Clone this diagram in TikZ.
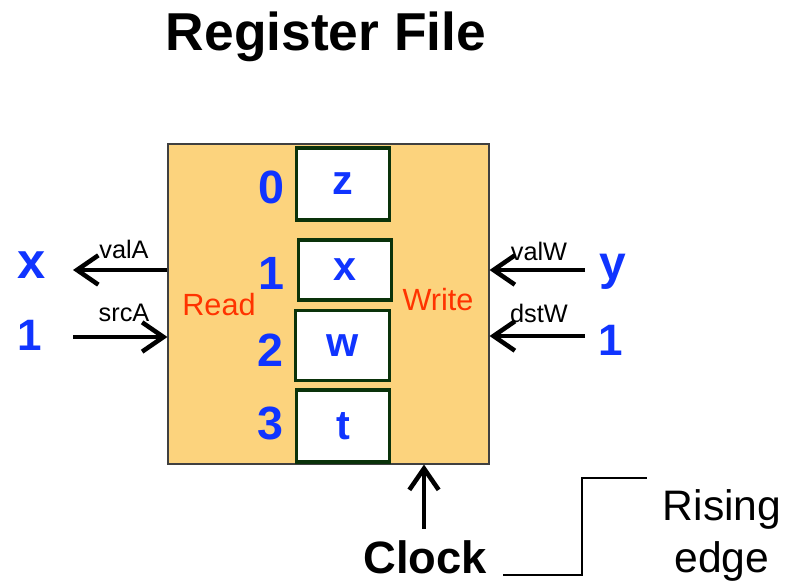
\documentclass[tikz,border=0pt]{standalone}
\usepackage{fontspec}
\setmainfont{Liberation Sans}
\usepackage{tikz}
\usetikzlibrary{arrows.meta}
\usepackage{xcolor}
\definecolor{boxfill}{RGB}{252,211,125}
\definecolor{regblue}{RGB}{16,52,255}
\definecolor{rwred}{RGB}{255,51,0}
\definecolor{regedge}{RGB}{10,50,10}

\begin{document}
\begin{tikzpicture}[x=0.75pt,y=-0.75pt,
  reg/.style={draw=regedge, line width=2.4pt, fill=white, minimum width=70pt, minimum height=52pt, inner sep=0pt,
    text=regblue, font=\fontsize{31}{33}\selectfont\bfseries},
  idx/.style={text=regblue, font=\fontsize{35}{37}\selectfont\bfseries},
  val/.style={text=regblue, font=\fontsize{33}{36}\selectfont\bfseries},
  port/.style={font=\fontsize{19}{22}\selectfont},
  side/.style={text=rwred, font=\fontsize{23}{26}\selectfont},
  arr/.style={line width=3.4pt, -{Straight Barb[length=16pt,width=22pt]}}]
\useasboundingbox (0,0) rectangle (793,584);
% Title
\node (title) at (326,37) {\fontsize{40}{42}\selectfont\bfseries Register File};
% Register file box
\node[draw=black!75, line width=0.8pt, fill=boxfill, minimum width=240.75pt, minimum height=240pt, inner sep=0pt] (rf) at (328.5,304) {};
\node[reg, minimum height=54pt] (r0) at (343,184) {z};
\node[reg, minimum height=45pt] (r1) at (345,270) {x};
\node[reg, minimum height=53pt] (r2) at (342.5,345.5) {w};
\node[reg, minimum height=54pt] (r3) at (343,426) {t};
\node[idx] (i0) at (271,187) {0};
\node[idx] (i1) at (271,273) {1};
\node[idx] (i2) at (270,350) {2};
\node[idx] (i3) at (270,423) {3};
\node[side] (rd) at (219,305) {Read};
\node[side] (wr) at (438,300) {Write};
% Read port
\node[val, font=\fontsize{38}{40}\selectfont\bfseries] (vx) at (32,265) {x};
\node[val] (va) at (30,335) {1};
\coordinate (valAend) at (73,270);
\coordinate (srcAbeg) at (73,337);
\draw[arr] (rf.west |- valAend) -- (valAend);
\draw[arr] (srcAbeg) -- (rf.west |- srcAbeg);
\node[port] (valA) at (124,249) {valA};
\node[port] (srcA) at (124,313) {srcA};
% Write port
\node[val, font=\fontsize{36}{40}\selectfont\bfseries] (vy) at (613,272) {y};
\node[val] (vd) at (611,340) {1};
\coordinate (valWbeg) at (585,270);
\coordinate (dstWbeg) at (585,336);
\draw[arr] (valWbeg) -- (rf.east |- valWbeg);
\draw[arr] (dstWbeg) -- (rf.east |- dstWbeg);
\node[port] (valW) at (539,251) {valW};
\node[port] (dstW) at (539,313) {dstW};
% Clock
\node (clk) at (425,557) {\fontsize{34}{36}\selectfont\bfseries Clock};
\coordinate (clkbeg) at (424,529);
\draw[arr] (clkbeg) -- (rf.south -| clkbeg);
\draw[line width=1pt] (503,575) -- (582,575) -- (582,478) -- (647,478);
\node[align=center, font=\fontsize{32}{39}\selectfont] (edge) at (722,535) {Rising\\edge};
\end{tikzpicture}
\end{document}
